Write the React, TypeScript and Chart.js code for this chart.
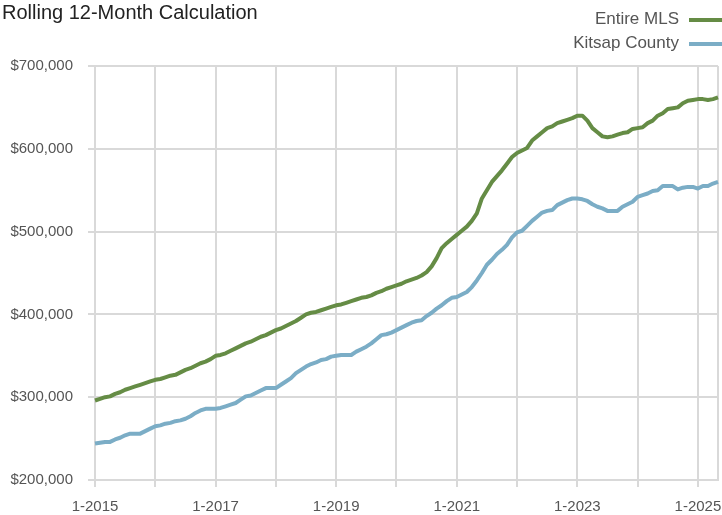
import React, { useEffect, useRef } from "react";
import { Chart, registerables } from "chart.js";

Chart.register(...registerables);

const TITLE = "Rolling 12-Month Calculation";
const START_YEAR = 2015;

// Monthly values, Jan 2015 – May 2025 (in dollars / 1000)
const entireMLS: number[] = [
  296, 298, 300, 301, 304, 306, 309, 311, 313, 315, 317, 319,
  321, 322, 324, 326, 327, 330, 333, 335, 338, 341, 343, 346,
  350, 351, 353, 356, 359, 362, 365, 367, 370, 373, 375, 378,
  381, 383, 386, 389, 392, 396, 400, 402, 403, 405, 407, 409,
  411, 412, 414, 416, 418, 420, 421, 423, 426, 428, 431, 433,
  435, 437, 440, 442, 444, 447, 451, 458, 468, 480, 486, 491,
  496, 501, 506, 513, 522, 540, 550, 560, 567, 574, 582, 590,
  595, 598, 601, 610, 615, 620, 625, 627, 631, 633, 635, 637,
  640, 640, 634, 625, 620, 615, 614, 615, 617, 619, 620, 624,
  625, 626, 631, 634, 640, 643, 648, 649, 650, 655, 658, 659,
  660, 660, 659, 660, 662,
];

const kitsapCounty: number[] = [
  244, 245, 246, 246, 249, 251, 254, 256, 256, 256, 259, 262,
  265, 266, 268, 269, 271, 272, 274, 277, 281, 284, 286, 286,
  286, 287, 289, 291, 293, 297, 301, 302, 305, 308, 311, 311,
  311, 315, 319, 323, 329, 333, 337, 340, 342, 345, 346, 349,
  350, 351, 351, 351, 355, 358, 361, 365, 370, 375, 376, 378,
  381, 384, 387, 390, 392, 393, 398, 402, 407, 411, 416, 420,
  421, 424, 427, 433, 441, 450, 460, 466, 473, 478, 484, 493,
  499, 501, 507, 513, 518, 523, 525, 526, 532, 535, 538, 540,
  540, 539, 537, 533, 530, 528, 525, 525, 525, 530, 533, 536,
  542, 544, 546, 549, 550, 555, 555, 555, 551, 553, 554, 554,
  552, 555, 555, 558, 560,
];

const SERIES_NAMES = ["Entire MLS", "Kitsap County"];
const SERIES_COLORS = ["#658c45", "#7badc6"];
const Y_MIN = 200000;
const Y_MAX = 700000;
const Y_STEP = 100000;

const monthLabels: string[] = entireMLS.map(
  (_, i) => `${(i % 12) + 1}-${START_YEAR + Math.floor(i / 12)}`
);

const GRID = "#d9d9d9";
const FONT = "'Liberation Sans', Arial, sans-serif";

const headerPlugin = {
  id: "header",
  afterDraw(chart: any) {
    const ctx = chart.ctx;
    ctx.save();
    ctx.fillStyle = "#222222";
    ctx.font = `20px ${FONT}`;
    ctx.textAlign = "left";
    ctx.textBaseline = "alphabetic";
    ctx.fillText(TITLE, 2, 19);

    const rows = [19, 43];
    chart.data.datasets.forEach((ds: any, i: number) => {
      const y = rows[i];
      ctx.font = `17px ${FONT}`;
      ctx.fillStyle = "#555555";
      ctx.textAlign = "right";
      ctx.textBaseline = "middle";
      ctx.fillText(ds.label, 679, y);
      ctx.strokeStyle = ds.borderColor;
      ctx.lineWidth = 4;
      ctx.beginPath();
      ctx.moveTo(689, y + 1);
      ctx.lineTo(722, y + 1);
      ctx.stroke();
    });
    ctx.restore();
  },
};

export default function App() {
  const ref = useRef<HTMLCanvasElement | null>(null);

  useEffect(() => {
    if (!ref.current) return;
    const last = monthLabels.length - 1;
    const chart = new Chart(ref.current, {
      type: "line",
      data: {
        labels: monthLabels,
        datasets: [
          {
            label: SERIES_NAMES[0],
            data: entireMLS.map((v) => v * 1000),
            borderColor: SERIES_COLORS[0],
            backgroundColor: SERIES_COLORS[0],
            borderWidth: 4,
            pointRadius: 0,
            tension: 0,
            clip: false as any,
            borderJoinStyle: "round",
          },
          {
            label: SERIES_NAMES[1],
            data: kitsapCounty.map((v) => v * 1000),
            borderColor: SERIES_COLORS[1],
            backgroundColor: SERIES_COLORS[1],
            borderWidth: 4,
            pointRadius: 0,
            tension: 0,
            clip: false as any,
            borderJoinStyle: "round",
          },
        ],
      },
      options: {
        responsive: false,
        animation: false,
        devicePixelRatio: 1,
        layout: { padding: { top: 66, right: 4, left: 0, bottom: 0 } },
        plugins: {
          legend: { display: false },
          title: { display: false },
          tooltip: { enabled: false },
        },
        scales: {
          x: {
            type: "category",
            offset: false,
            grid: {
              color: (c: any) =>
                c.index % 12 === 0 || c.index === last ? GRID : "rgba(0,0,0,0)",
              tickColor: (c: any) => (c.index % 12 === 0 ? GRID : "rgba(0,0,0,0)"),
              lineWidth: 2,
              tickLength: 7,
              drawTicks: true,
            },
            border: { display: true, color: GRID, width: 2 },
            ticks: {
              autoSkip: false,
              maxRotation: 0,
              minRotation: 0,
              padding: 11,
              color: "#555555",
              font: { family: FONT, size: 15 },
              callback: (_v: any, i: number) => (i % 24 === 0 ? monthLabels[i] : ""),
            },
            afterFit: (s: any) => {
              s.height = 35;
              s.paddingRight = 0;
              s.paddingLeft = 0;
            },
          },
          y: {
            min: Y_MIN,
            max: Y_MAX,
            grid: { color: GRID, lineWidth: 2, tickLength: 7 },
            border: { display: true, color: GRID, width: 2 },
            ticks: {
              stepSize: Y_STEP,
              padding: 15,
              color: "#555555",
              font: { family: FONT, size: 15 },
              callback: (v: any) => "$" + Number(v).toLocaleString("en-US"),
            },
            afterFit: (s: any) => {
              s.width = 95;
            },
          },
        },
      },
      plugins: [headerPlugin],
    });
    return () => chart.destroy();
  }, []);

  return (
    <div style={{ position: "absolute", left: 0, top: 0, width: 722, height: 515, background: "#fff" }}>
      <canvas ref={ref} width={722} height={515} style={{ display: "block" }} />
    </div>
  );
}
